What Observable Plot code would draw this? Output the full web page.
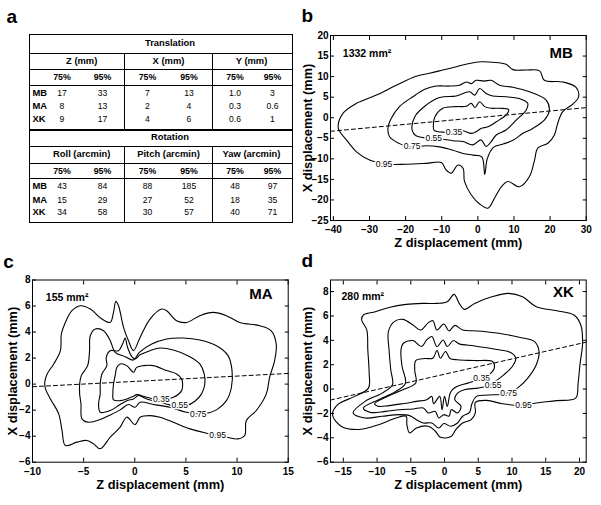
<!DOCTYPE html>
<html><head><meta charset="utf-8">
<script src="https://cdn.jsdelivr.net/npm/d3@7"></script>
<script src="https://cdn.jsdelivr.net/npm/@observablehq/plot@0.6"></script>
<style>
body{margin:0;background:#fff;}
#fig{position:relative;width:601px;height:505px;background:#fff;overflow:hidden;font-family:"Liberation Sans",Arial,Helvetica,sans-serif;color:#000;}
.letter{position:absolute;font-weight:bold;font-size:19px;line-height:1;}
.tt{position:absolute;transform:translate(-50%,-50%);white-space:nowrap;font-size:8.6px;line-height:1;}
.tl{position:absolute;transform:translate(0,-50%);white-space:nowrap;line-height:1;}
.bd{font-weight:bold;font-size:9.4px;}
.hl{position:absolute;height:0;border-top:1px solid #000;}
.vl{position:absolute;width:0;border-left:1px solid #000;}
.panel{position:absolute;}
</style></head><body><div id="fig"></div>
<script>
// ---------- data ----------
const panelLetters = ["a", "b", "c", "d"];
const subjects = ["MB", "MA", "XK"];
const percentLabels = ["75%", "95%"];
const translationTitle = "Translation";
const rotationTitle = "Rotation";
const translationHeaders = ["Z (mm)", "X (mm)", "Y (mm)"];
const rotationHeaders = ["Roll (arcmin)", "Pitch (arcmin)", "Yaw (arcmin)"];
const translationValues = [
  ["17", "33", "7", "13", "1.0", "3"],
  ["8", "13", "2", "4", "0.3", "0.6"],
  ["9", "17", "4", "6", "0.6", "1"]
];
const rotationValues = [
  ["43", "84", "88", "185", "48", "97"],
  ["15", "29", "27", "52", "18", "35"],
  ["34", "58", "30", "57", "40", "71"]
];

const levels = ["0.35", "0.55", "0.75", "0.95"];
const xAxisTitle = "Z displacement (mm)";
const yAxisTitle = "X displacement (mm)";
const areas = ["1332 mm²", "155 mm²", "280 mm²"];

// Panel b (MB)
const mbX = [-40, -30, -20, -10, 0, 10, 20, 30];
const mbY = [-25, -20, -15, -10, -5, 0, 5, 10, 15, 20];
const mbLevel35 = [[-12.3,-1.5],[-11.9,0.2],[-9.7,2.3],[-6.0,2.7],[-3.2,2.8],[-1.8,3.5],[-0.8,2.5],[0.5,3.9],[1.9,2.7],[3.7,2.3],[6.0,2.3],[8.5,2.0],[8.0,0.8],[5.1,-1.0],[2.8,-2.2],[0.9,-2.6],[-0.3,-3.3],[-1.8,-3.8],[-4.1,-3.2],[-6.5,-3.5],[-9.7,-3.5],[-12.1,-3.1]];
const mbLevel55 = [[-18.2,-3.0],[-17.5,0.2],[-14.7,2.8],[-10.6,4.9],[-6.0,5.3],[-2.3,6.3],[-0.9,5.5],[0.5,7.1],[2.3,5.9],[4.1,5.3],[7.8,5.1],[12.0,4.5],[13.8,3.5],[13.4,1.9],[10.6,-0.6],[7.8,-3.0],[5.1,-4.2],[3.7,-5.8],[2.3,-7.0],[0.9,-5.4],[-1.4,-6.6],[-4.1,-5.8],[-6.9,-5.6],[-10.6,-5.1],[-14.3,-4.9],[-17.1,-4.4]];
const mbLevel75 = [[-24.9,-2.6],[-24.0,-0.2],[-21.7,2.7],[-18.0,5.1],[-14.7,6.9],[-11.5,7.7],[-7.8,7.7],[-5.1,7.9],[-3.2,8.7],[-1.8,8.3],[-0.5,9.1],[1.8,8.9],[3.7,9.1],[6.0,7.9],[9.7,7.4],[14.3,6.3],[18.9,4.3],[19.8,1.9],[18.4,-0.6],[15.2,-2.6],[12.5,-3.8],[9.7,-5.5],[7.0,-6.4],[4.3,-7.2],[2.6,-10.0],[1.9,-13.8],[1.1,-9.5],[-1.3,-9.1],[-4.1,-8.7],[-6.9,-7.9],[-10.6,-7.1],[-14.3,-6.8],[-18.9,-7.1],[-21.7,-6.3],[-24.4,-4.7]];
const mbLevel95 = [[-38.7,-2.2],[-37.3,1.1],[-33.6,3.5],[-28.1,5.5],[-22.6,7.9],[-17.1,10.1],[-13.4,10.8],[-9.7,11.6],[-6.0,12.4],[-2.3,13.2],[0.9,13.6],[4.1,13.5],[7.8,13.0],[9.7,11.7],[13.4,11.6],[17.1,11.4],[18.4,9.1],[23.5,8.7],[27.2,7.4],[27.9,5.1],[26.3,3.3],[23.5,1.5],[22.1,-1.4],[21.2,-4.2],[19.4,-6.2],[16.6,-7.4],[15.7,-10.3],[14.3,-14.3],[11.5,-16.8],[8.3,-15.5],[6.5,-16.8],[4.6,-19.6],[2.8,-22.0],[0.5,-21.0],[-1.8,-18.8],[-3.7,-15.5],[-4.1,-12.3],[-5.5,-11.5],[-7.4,-13.5],[-8.8,-12.7],[-10.1,-10.9],[-14.3,-11.1],[-19.8,-11.3],[-25.3,-11.3],[-30.0,-10.3],[-33.6,-8.3],[-36.4,-5.4],[-38.2,-3.4]];
const mbLabelPos = [[-6.6,-3.5],[-12.2,-5.0],[-18.2,-7.0],[-26.0,-11.3]];
const mbTrend = [[-40.8,-3.3],[30,2.45]];

// Panel c (MA)
const maX = [-10, -5, 0, 5, 10, 15];
const maY = [-6, -4, -2, 0, 2, 4, 6, 8];
const maLevel35 = [[-2.08,0.01],[-1.92,0.65],[-1.75,1.29],[-1.43,1.55],[-0.78,1.42],[-0.13,0.91],[0.19,1.29],[0.84,1.42],[1.82,1.42],[3.12,1.04],[4.09,0.78],[4.58,0.40],[4.68,0.01],[4.58,-0.50],[3.77,-1.01],[2.47,-1.19],[1.17,-1.01],[0.19,-0.81],[-0.13,-0.93],[-0.78,-1.14],[-1.43,-1.27],[-2.08,-1.21],[-2.14,-0.63]];
const maLevel55 = [[-3.38,0.01],[-3.21,0.78],[-2.73,1.42],[-2.79,2.06],[-2.40,2.57],[-1.59,2.57],[-1.17,3.13],[-0.94,3.54],[-0.71,2.83],[-0.29,2.11],[0.03,1.93],[0.52,2.26],[1.49,2.57],[2.47,2.77],[3.77,2.62],[5.39,2.11],[6.36,1.55],[6.79,0.78],[6.85,0.01],[6.53,-0.75],[5.88,-1.32],[5.06,-1.65],[3.77,-1.65],[2.47,-1.39],[1.17,-1.14],[0.36,-0.88],[-0.13,-1.14],[-0.78,-1.27],[-1.59,-1.65],[-2.40,-2.03],[-3.38,-2.16],[-3.54,-1.52],[-3.38,-0.75]];
const maLevel75 = [[-5.39,0.01],[-5.23,0.65],[-4.61,1.42],[-4.42,2.57],[-4.35,3.72],[-3.86,4.23],[-3.05,4.10],[-2.40,3.34],[-1.92,2.44],[-0.94,2.11],[-0.13,1.85],[0.45,2.44],[1.66,3.08],[3.12,3.47],[4.74,3.54],[6.36,3.39],[7.99,2.95],[9.12,2.19],[9.51,1.04],[9.45,-0.24],[8.96,-1.27],[7.99,-1.98],[6.69,-2.29],[5.06,-2.16],[3.44,-1.78],[1.82,-1.57],[0.52,-1.39],[0.03,-1.78],[-0.62,-1.57],[-1.43,-1.98],[-2.40,-2.37],[-3.38,-2.72],[-4.51,-2.93],[-5.16,-2.67],[-5.26,-1.52],[-5.39,-0.76]];
const maLevel95 = [[-8.80,0.14],[-8.57,0.78],[-7.92,1.55],[-7.27,2.57],[-7.18,3.85],[-6.79,4.74],[-6.14,5.64],[-5.32,6.02],[-4.35,5.77],[-3.21,5.00],[-2.40,4.74],[-2.08,5.51],[-1.85,6.36],[-1.59,6.02],[-1.10,4.36],[-0.62,3.34],[-0.13,2.57],[0.52,3.59],[1.49,5.00],[2.63,5.77],[3.12,5.64],[4.09,4.87],[5.06,4.74],[6.36,5.26],[7.66,5.51],[8.96,5.26],[10.26,4.74],[12.21,4.49],[13.34,4.10],[13.83,3.08],[13.67,1.80],[13.18,0.52],[12.86,-0.75],[11.88,-2.03],[10.91,-2.80],[10.75,-3.95],[10.10,-4.21],[8.96,-4.08],[7.01,-3.77],[5.39,-3.44],[3.77,-2.93],[2.47,-2.54],[1.49,-2.42],[0.52,-2.54],[0.03,-3.11],[-0.78,-2.54],[-1.43,-3.31],[-2.40,-4.08],[-3.38,-4.97],[-4.03,-4.59],[-4.68,-4.33],[-5.65,-4.46],[-6.79,-4.72],[-7.11,-3.57],[-7.44,-2.29],[-8.25,-1.14],[-8.73,-0.37]];
const maLabelPos = [[2.6,-1.17],[4.4,-1.62],[6.2,-2.3],[8.1,-3.95]];
const maTrend = [[-10,-0.2],[15,0.82]];

// Panel d (XK)
const xkX = [-15, -10, -5, 0, 5, 10, 15, 20];
const xkY = [-6, -4, -2, 0, 2, 4, 6, 8];
const xkLevel35 = [[-10.36,-1.20],[-8.48,-0.60],[-6.19,-0.05],[-4.26,0.49],[-4.42,1.58],[-4.26,2.34],[-2.89,2.51],[-1.73,2.53],[-1.12,3.16],[-0.61,2.53],[0.15,3.08],[0.81,2.51],[1.93,2.40],[4.47,2.34],[7.11,2.26],[7.41,1.80],[6.75,1.25],[5.23,0.82],[3.45,0.49],[1.83,0.22],[1.17,-0.05],[0.81,-0.38],[0.41,-1.42],[0.0,-0.60],[-0.36,-1.69],[-0.71,-0.60],[-1.62,-1.20],[-1.88,-0.60],[-2.64,-0.87],[-4.16,-1.01],[-6.19,-1.20],[-8.22,-1.36],[-9.75,-1.42]];
const xkLevel55 = [[-12.03,-1.55],[-9.75,-0.87],[-7.21,-0.19],[-5.79,0.49],[-6.29,1.85],[-6.45,3.22],[-6.09,3.76],[-4.67,3.98],[-3.40,3.49],[-2.64,4.03],[-1.88,4.31],[-1.12,3.49],[-0.20,4.03],[0.41,3.49],[1.32,3.98],[2.18,3.71],[4.47,3.54],[7.51,3.27],[9.80,3.00],[10.56,2.53],[10.05,1.85],[8.78,1.17],[7.51,0.63],[6.50,0.27],[4.97,0.08],[2.94,-0.05],[1.93,-0.33],[1.52,-0.87],[2.44,-1.42],[1.93,-1.96],[1.02,-1.69],[0.66,-2.23],[-0.10,-2.10],[-0.86,-2.37],[-1.37,-1.83],[-2.39,-1.96],[-3.15,-1.55],[-4.67,-1.63],[-6.70,-1.69],[-8.73,-1.83],[-11.02,-1.91]];
const xkLevel75 = [[-13.55,-1.96],[-11.78,-1.01],[-9.24,-0.33],[-7.72,0.35],[-7.97,1.58],[-8.22,3.22],[-8.32,4.71],[-7.46,5.53],[-6.19,5.72],[-4.67,5.26],[-3.55,4.85],[-2.39,5.45],[-1.73,5.61],[-1.12,4.85],[-0.10,5.34],[0.66,4.77],[1.52,5.23],[2.69,4.85],[4.97,4.77],[8.02,4.58],[11.07,4.25],[13.35,3.90],[14.01,3.08],[13.60,1.99],[12.34,0.90],[10.81,0.08],[9.04,-0.38],[6.50,-0.49],[4.72,-0.60],[4.06,-1.20],[3.71,-1.91],[2.69,-2.23],[1.93,-2.78],[0.91,-3.05],[-0.10,-2.83],[-0.86,-3.19],[-1.88,-2.78],[-3.15,-2.78],[-4.16,-2.51],[-5.18,-2.18],[-6.70,-2.10],[-9.24,-2.23],[-11.78,-2.37]];
const xkLevel95 = [[-12.03,6.08],[-10.25,6.35],[-8.22,6.70],[-5.69,6.95],[-3.15,7.03],[-1.12,7.03],[0.41,7.17],[1.42,7.77],[2.18,7.03],[2.94,6.54],[4.47,7.03],[7.01,7.57],[9.54,7.85],[11.57,7.57],[13.60,6.76],[16.65,6.43],[19.19,6.08],[20.20,5.26],[20.46,3.76],[20.10,2.13],[19.80,0.49],[19.44,-0.74],[16.65,-0.95],[13.60,-1.14],[11.07,-1.34],[8.53,-1.20],[6.24,-0.93],[4.57,-1.09],[4.57,-1.96],[3.96,-2.51],[2.69,-2.78],[1.68,-3.32],[0.91,-3.92],[-0.61,-3.95],[-1.37,-3.46],[-2.39,-3.05],[-4.16,-3.19],[-5.18,-3.60],[-5.58,-2.92],[-5.69,-2.23],[-7.21,-2.37],[-9.75,-2.92],[-12.79,-3.32],[-15.33,-3.05],[-16.60,-2.10],[-15.84,-1.28],[-13.30,-0.60],[-11.27,0.08],[-11.17,1.31],[-11.37,3.22],[-11.52,4.85],[-12.28,5.67]];
const xkLabelPos = [[5.5,0.9],[7.2,0.3],[9.5,-0.38],[11.7,-1.32]];
const xkTrend = [[-16.9,-0.9],[21,3.85]];

// ---------- layout ----------
const fig = document.getElementById("fig");
function el(cls, css, html) {
  const d = document.createElement("div");
  d.className = cls;
  Object.assign(d.style, css);
  if (html != null) d.textContent = html;
  fig.appendChild(d);
  return d;
}

// ---------- table (panel a) ----------
const tL = 29.3, tT = 34.3, tR = 292.7, tB = 222.7;
el("", {position: "absolute", left: tL + "px", top: tT + "px", width: (tR - tL) + "px", height: (tB - tT) + "px", border: "1.4px solid #000", boxSizing: "border-box"});
[53.3, 69, 85, 145.7, 162.7, 178.3].forEach(y => el("hl", {left: tL + "px", top: y + "px", width: (tR - tL) + "px"}));
el("hl", {left: tL + "px", top: "128.5px", width: (tR - tL) + "px", borderTopWidth: "2px"});
[124.3, 212].forEach(x => {
  el("vl", {left: x + "px", top: "53.3px", height: (129.3 - 53.3) + "px"});
  el("vl", {left: x + "px", top: "145.7px", height: (tB - 145.7) + "px"});
});
const colCenters = [62, 102.5, 147.5, 189, 235, 272.5];
const headCenters = [81.7, 168.5, 251.5];
function block(title, titleY, headers, headY, pctY, values, rowYs) {
  el("tt bd", {left: "170px", top: titleY + "px"}, title);
  headers.forEach((h, i) => el("tt bd", {left: headCenters[i] + "px", top: headY + "px"}, h));
  colCenters.forEach((c, i) => el("tt bd", {left: c + "px", top: pctY + "px", fontSize: "8.8px"}, percentLabels[i % 2]));
  values.forEach((row, r) => {
    el("tl bd", {left: "32.5px", top: rowYs[r] + "px"}, subjects[r]);
    row.forEach((v, i) => el("tt", {left: colCenters[i] + "px", top: rowYs[r] + "px"}, v));
  });
}
block(translationTitle, 43, translationHeaders, 61.3, 77.3, translationValues, [93, 106.2, 118.5]);
block(rotationTitle, 137, rotationHeaders, 154.3, 170.8, rotationValues, [186.3, 199.5, 212]);

// ---------- contour panels ----------
const font = "'Liberation Sans', Arial, Helvetica, sans-serif";
function panel(o) {
  const rows = [];
  o.contours.forEach((pts, i) => pts.forEach(p => rows.push({level: levels[i], zx: p[0], xd: p[1]})));
  const labelRows = o.labelPos.map((p, i) => ({level: levels[i], zx: p[0], xd: p[1]}));
  const fmt = d3.format("d");
  const blank = () => "";
  const svg = Plot.plot({
    width: o.width, height: o.height,
    marginLeft: o.ml, marginRight: o.mr, marginTop: o.mt, marginBottom: o.mb,
    x: {domain: o.xDomain, label: null},
    y: {domain: o.yDomain, label: null},
    style: {fontFamily: font, fontSize: "10px", fontWeight: "bold", color: "#000", background: "transparent", overflow: "visible"},
    marks: [
      Plot.line(rows, {x: "zx", y: "xd", z: "level", curve: "catmull-rom-closed", stroke: "#000", strokeWidth: 1.1}),
      Plot.line(o.trend, {x: d => d[0], y: d => d[1], stroke: "#000", strokeWidth: 1, strokeDasharray: "4,3"}),
      Plot.text(labelRows, {x: "zx", y: "xd", text: "level", fill: "#000", stroke: "#fff", strokeWidth: 3, fontSize: 8.5, fontWeight: "normal", lineAnchor: "middle"}),
      Plot.frame({stroke: "#000", strokeWidth: 1}),
      Plot.axisX(o.xTicks, {anchor: "bottom", tickSize: 0, tickPadding: o.xPad, tickFormat: fmt, label: null}),
      Plot.axisX(o.xTicks, {anchor: "bottom", tickSize: -4, tickFormat: blank, label: null}),
      Plot.axisX(o.xTicks, {anchor: "top", tickSize: -4, tickFormat: blank, label: null}),
      Plot.axisY(o.yTicks, {anchor: "left", tickSize: 0, tickPadding: 2, tickFormat: fmt, label: null}),
      Plot.axisY(o.yTicks, {anchor: "left", tickSize: -4, tickFormat: blank, label: null}),
      Plot.axisY(o.yTicks, {anchor: "right", tickSize: -4, tickFormat: blank, label: null}),
      Plot.text([xAxisTitle], {frameAnchor: "bottom", dy: o.xLabelDy, lineAnchor: "middle", textAnchor: "middle", fontSize: 12.8, fontWeight: "bold", fill: "#000"}),
      Plot.text([yAxisTitle], {frameAnchor: "left", rotate: -90, dx: o.yLabelDx, lineAnchor: "middle", textAnchor: "middle", fontSize: 12.8, fontWeight: "bold", fill: "#000"}),
      Plot.text([o.area], {frameAnchor: "top-left", dx: o.areaDx, dy: o.areaDy, lineAnchor: "middle", textAnchor: "start", fontSize: 10.5, fontWeight: "bold", fill: "#000"}),
      Plot.text([o.name], {frameAnchor: "top-right", dx: o.nameDx, dy: o.nameDy, lineAnchor: "middle", textAnchor: "end", fontSize: 15, fontWeight: "bold", fill: "#000"})
    ]
  });
  const holder = el("panel", {left: o.left + "px", top: o.top + "px"});
  holder.appendChild(svg);
}

panel({left: 300, top: 0, width: 301, height: 250, ml: 30, mr: 15.3, mt: 35, mb: 30, xPad: 5,
  xDomain: [-40.8, 30], yDomain: [-25, 20], xTicks: mbX, yTicks: mbY,
  contours: [mbLevel35, mbLevel55, mbLevel75, mbLevel95], labelPos: mbLabelPos, trend: mbTrend,
  xLabelDy: 22.3, yLabelDx: -23, area: areas[0], areaDx: 12.3, areaDy: 18, name: subjects[0], nameDx: -13.4, nameDy: 18});

panel({left: 0, top: 250, width: 300, height: 255, ml: 32, mr: 12.3, mt: 29.5, mb: 43.3, xPad: 6,
  xDomain: [-10, 15], yDomain: [-6, 8], xTicks: maX, yTicks: maY,
  contours: [maLevel35, maLevel55, maLevel75, maLevel95], labelPos: maLabelPos, trend: maTrend,
  xLabelDy: 23, yLabelDx: -19.5, area: areas[1], areaDx: 13.3, areaDy: 17.5, name: subjects[1], nameDx: -15.7, nameDy: 14});

panel({left: 300, top: 250, width: 301, height: 255, ml: 30, mr: 15.3, mt: 29.5, mb: 43.3, xPad: 6,
  xDomain: [-16.9, 21], yDomain: [-6, 8.95], xTicks: xkX, yTicks: xkY,
  contours: [xkLevel35, xkLevel55, xkLevel75, xkLevel95], labelPos: xkLabelPos, trend: xkTrend,
  xLabelDy: 23, yLabelDx: -22.5, area: areas[2], areaDx: 11, areaDy: 16.5, name: subjects[2], nameDx: -12.4, nameDy: 12.5});

// panel letters (drawn last so they stay on top)
[[6.5, 7.2], [301.5, 5.6], [3.3, 252.2], [301.5, 250.6]].forEach(([x, y], i) =>
  el("letter", {left: x + "px", top: y + "px"}, panelLetters[i]));
</script></body></html>
